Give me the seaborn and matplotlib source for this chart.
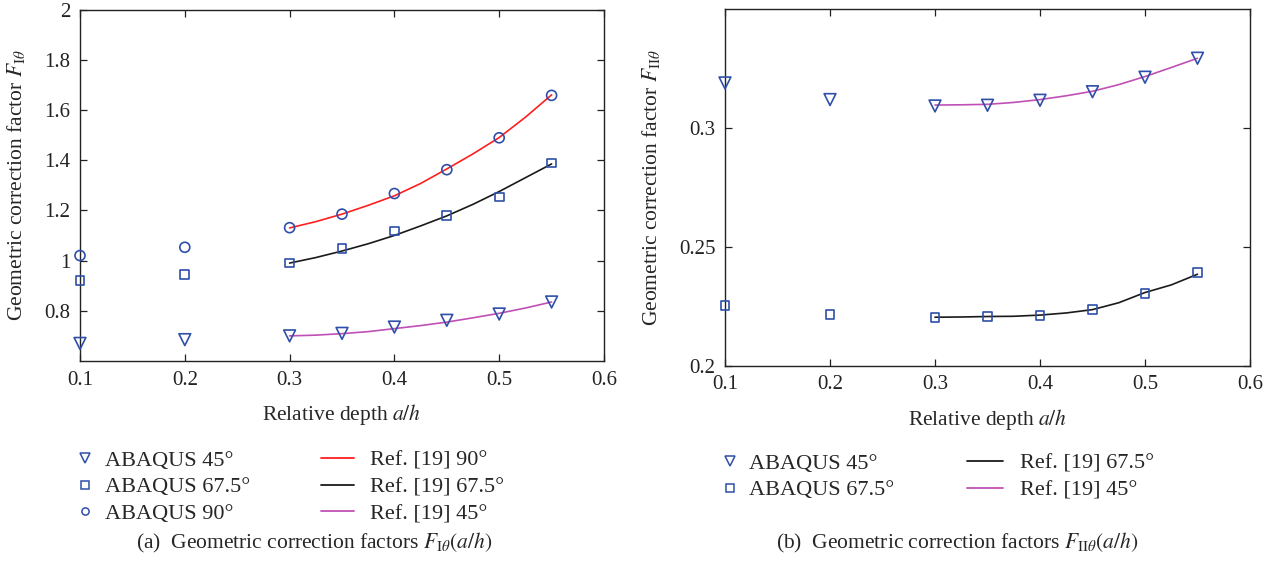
import numpy as np
import pandas as pd
import matplotlib
matplotlib.use("Agg")
import matplotlib.pyplot as plt
from matplotlib.lines import Line2D
import seaborn as sns

# ---------------- data ----------------
x_fem = [0.1, 0.2, 0.3, 0.35, 0.4, 0.45, 0.5, 0.55]
x_ref = [0.3, 0.325, 0.35, 0.375, 0.4, 0.425, 0.45, 0.475, 0.5, 0.525, 0.55]

# (a) F_I
fI_abaqus_45 = [0.67, 0.685, 0.70, 0.71, 0.735, 0.762, 0.787, 0.835]
fI_abaqus_675 = [0.92, 0.945, 0.99, 1.049, 1.118, 1.181, 1.253, 1.389]
fI_abaqus_90 = [1.02, 1.053, 1.131, 1.185, 1.267, 1.362, 1.489, 1.658]
fI_ref_90 = [1.13, 1.155, 1.185, 1.22, 1.258, 1.307, 1.365, 1.425, 1.49, 1.571, 1.66]
fI_ref_675 = [0.99, 1.012, 1.038, 1.067, 1.10, 1.138, 1.178, 1.224, 1.275, 1.33, 1.385]
fI_ref_45 = [0.70, 0.703, 0.709, 0.717, 0.729, 0.741, 0.755, 0.772, 0.79, 0.811, 0.835]

# (b) F_II
fII_abaqus_45 = [0.319, 0.312, 0.3093, 0.3096, 0.3117, 0.3153, 0.3214, 0.3294]
fII_abaqus_675 = [0.2252, 0.2215, 0.2204, 0.2207, 0.2211, 0.2236, 0.2304, 0.2392]
fII_ref_675 = [0.2204, 0.2205, 0.2207, 0.2208, 0.2213, 0.2222, 0.2236, 0.2265, 0.2308, 0.234, 0.2385]
fII_ref_45 = [0.3097, 0.3098, 0.3100, 0.3108, 0.3120, 0.3136, 0.3155, 0.3183, 0.3217, 0.3255, 0.3294]

xticks = [0.1, 0.2, 0.3, 0.4, 0.5, 0.6]
xticklabels = ["0.1", "0.2", "0.3", "0.4", "0.5", "0.6"]
yticks_a = [0.8, 1.0, 1.2, 1.4, 1.6, 1.8, 2.0]
yticklabels_a = ["0.8", "1", "1.2", "1.4", "1.6", "1.8", "2"]
yticks_b = [0.2, 0.25, 0.3]
yticklabels_b = ["0.2", "0.25", "0.3"]

# ---------------- style ----------------
sns.set_theme(style="ticks")
plt.rcParams["font.family"] = ["Liberation Serif", "DejaVu Serif"]
plt.rcParams["mathtext.fontset"] = "stix"
plt.rcParams["axes.linewidth"] = 1.0

BLUE = "#2f4fa8"
RED = "#ff1f1f"
BLACK = "#1a1a1a"
MAG = "#c050b5"
FS_LEG = 16
FS_TICK = 15
FS_LAB = 15.5
FS_CAP = 15.5

W, H = 1282, 563
fig = plt.figure(figsize=(W / 100, H / 100), dpi=100)

def px_axes(x0, x1, ytop, ybot):
    return fig.add_axes([x0 / W, (H - ybot) / H, (x1 - x0) / W, (ybot - ytop) / H])

axA = px_axes(80, 604, 9.5, 361)
axB = px_axes(725, 1250, 9.3, 365.7)

def scatter(ax, x, y, marker, s):
    sns.scatterplot(x=x, y=y, ax=ax, marker=marker, s=s, facecolors="none",
                    edgecolor=BLUE, linewidth=1.2, zorder=3, clip_on=False)

def line(ax, x, y, color):
    sns.lineplot(x=x, y=y, ax=ax, color=color, linewidth=1.2, zorder=2)

# (a)
line(axA, x_ref, fI_ref_90, RED)
line(axA, x_ref, fI_ref_675, BLACK)
line(axA, x_ref, fI_ref_45, MAG)
scatter(axA, x_fem, fI_abaqus_45, "v", 72)
scatter(axA, x_fem, fI_abaqus_675, "s", 40)
scatter(axA, x_fem, fI_abaqus_90, "o", 52)

# (b)
line(axB, x_ref, fII_ref_675, BLACK)
line(axB, x_ref, fII_ref_45, MAG)
scatter(axB, x_fem, fII_abaqus_45, "v", 72)
scatter(axB, x_fem, fII_abaqus_675, "s", 40)

for ax in (axA, axB):
    ax.set_xlim(0.1, 0.6)
    ax.set_xticks(xticks)
    ax.set_xticklabels(xticklabels)
    ax.tick_params(direction="in", top=True, right=True, length=5, width=0.9,
                   labelsize=FS_TICK, pad=7, colors="#222222", labelcolor="#222222")
    for sp in ax.spines.values():
        sp.set_visible(True)
        sp.set_color("#222222")
    ax.set_xlabel(r"Relative depth $a/h$", fontsize=FS_LAB, labelpad=9)

axA.set_ylim(0.6, 2.0)
axA.set_yticks(yticks_a)
axA.set_yticklabels(yticklabels_a)
axA.set_ylabel(r"Geometric correction factor $F_{\mathrm{I}\theta}$", fontsize=FS_LAB, labelpad=12)

axB.set_ylim(0.2, 0.35)
axB.set_yticks(yticks_b)
axB.set_yticklabels(yticklabels_b)
axB.set_ylabel(r"Geometric correction factor $F_{\mathrm{II}\theta}$", fontsize=FS_LAB, labelpad=12)

# ---------------- legends ----------------
def mk(marker, ms):
    return Line2D([], [], linestyle="none", marker=marker, markersize=ms,
                  markerfacecolor="none", markeredgecolor=BLUE, markeredgewidth=1.1)

def ln(color):
    return Line2D([], [], color=color, linewidth=1.3)

def place_legend(handles, labels, left_px, top_px, hl, htp):
    return fig.legend(handles, labels, loc="upper left",
                      bbox_to_anchor=(left_px / W, (H - top_px) / H),
                      frameon=False, fontsize=FS_LEG, borderpad=0, borderaxespad=0,
                      handlelength=hl, handletextpad=htp, labelspacing=0.28)

place_legend([mk("v", 6.8), mk("s", 6), mk("o", 5.2)],
             ["ABAQUS 45°", "ABAQUS 67.5°", "ABAQUS 90°"], 74, 450, 1.0, 0.41)
place_legend([ln(RED), ln(BLACK), ln(MAG)],
             ["Ref. [19] 90°", "Ref. [19] 67.5°", "Ref. [19] 45°"], 321, 450, 1.5, 0.72)
place_legend([mk("v", 6.8), mk("s", 6)],
             ["ABAQUS 45°", "ABAQUS 67.5°"], 719, 453, 1.0, 0.36)
place_legend([ln(BLACK), ln(MAG)],
             ["Ref. [19] 67.5°", "Ref. [19] 45°"], 967, 453, 1.6, 0.8)

# ---------------- captions ----------------
fig.text(314 / W, (H - 543) / H, r"(a)  Geometric correction factors $F_{\mathrm{I}\theta}(a/h)$",
         ha="center", va="center", fontsize=FS_CAP)
fig.text(957 / W, (H - 543) / H, r"(b)  Geometric correction factors $F_{\mathrm{II}\theta}(a/h)$",
         ha="center", va="center", fontsize=FS_CAP)

fig.savefig("out.png", dpi=100)
